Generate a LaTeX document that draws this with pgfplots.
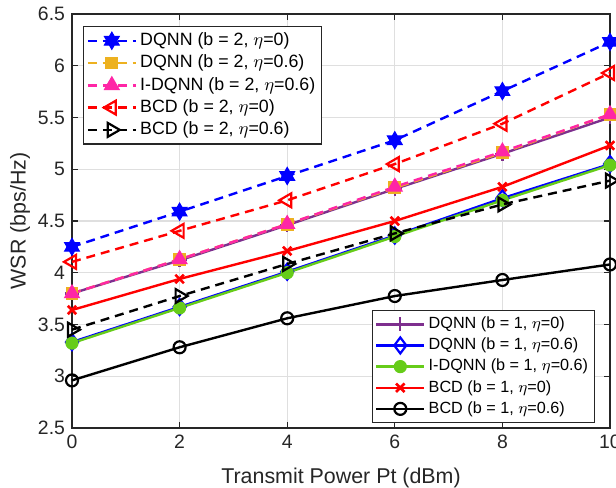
\documentclass[border=0pt]{standalone}
\usepackage{fontspec}
\setmainfont{Liberation Sans}
\usepackage{pgfplots}
\pgfplotsset{compat=1.18}
\definecolor{mblue}{rgb}{0,0,1}
\definecolor{mred}{rgb}{1,0,0}
\definecolor{morange}{rgb}{0.929,0.694,0.125}
\definecolor{mpink}{rgb}{1,0.15,0.65}
\definecolor{mpurple}{rgb}{0.494,0.184,0.556}
\definecolor{mgreen}{rgb}{0.4,0.8,0.1}
\definecolor{axgray}{rgb}{0.15,0.15,0.15}
\pgfdeclareplotmark{hexagram}{%
  \pgfpathmoveto{\pgfpointpolar{90}{\pgfplotmarksize}}%
  \pgfpathlineto{\pgfpointpolar{120}{0.577\pgfplotmarksize}}%
  \pgfpathlineto{\pgfpointpolar{150}{\pgfplotmarksize}}%
  \pgfpathlineto{\pgfpointpolar{180}{0.577\pgfplotmarksize}}%
  \pgfpathlineto{\pgfpointpolar{210}{\pgfplotmarksize}}%
  \pgfpathlineto{\pgfpointpolar{240}{0.577\pgfplotmarksize}}%
  \pgfpathlineto{\pgfpointpolar{270}{\pgfplotmarksize}}%
  \pgfpathlineto{\pgfpointpolar{300}{0.577\pgfplotmarksize}}%
  \pgfpathlineto{\pgfpointpolar{330}{\pgfplotmarksize}}%
  \pgfpathlineto{\pgfpointpolar{0}{0.577\pgfplotmarksize}}%
  \pgfpathlineto{\pgfpointpolar{30}{\pgfplotmarksize}}%
  \pgfpathlineto{\pgfpointpolar{60}{0.577\pgfplotmarksize}}%
  \pgfpathclose
  \pgfusepathqfillstroke
}
\pgfplotsset{
  common/.style={
    scale only axis,
    width=269bp, height=207bp,
    at={(0,0)}, anchor=south west,
    xmin=0, xmax=10, ymin=2.5, ymax=6.5,
    clip=false,
    legend cell align=left,
    legend image code/.code={\draw[mark repeat=2,mark phase=2,##1] plot coordinates {(0bp,0bp) (12bp,0bp) (24bp,0bp)};},
    legend style={draw=axgray, line width=0.6bp, fill=white,
      inner xsep=1.5bp, inner ysep=1.5bp, row sep=0pt,
      nodes={inner sep=1.6bp}},
  },
}
\begin{document}
\begin{tikzpicture}
\useasboundingbox (-36bp,-30bp) rectangle (272bp,214bp);
\begin{axis}[common,
  axis line style={axgray, line width=0.8bp},
  tick style={axgray, line width=0.6bp},
  major tick length=3bp,
  tick align=inside,
  xtick={0,2,4,6,8,10},
  ytick={2.5,3,3.5,4,4.5,5,5.5,6,6.5},
  grid=major,
  grid style={gray!25, line width=0.6bp},
  /pgf/number format/assume math mode=true,
  ticklabel style={font=\fontsize{9.7bp}{11bp}\selectfont, text=axgray},
  xlabel={Transmit Power Pt (dBm)},
  ylabel={WSR (bps/Hz)},
  label style={font=\fontsize{10.7bp}{12bp}\selectfont, text=axgray},
  xlabel style={at={(axis description cs:0.5,-0.121)}, anchor=center},
  ylabel style={at={(axis description cs:-0.0967,0.5)}, anchor=center},
  legend style={at={(axis description cs:0.972,0.012)}, anchor=south east,
    font=\fontsize{8.1bp}{9.5bp}\selectfont},
]
\addplot[mpurple, line width=1.2bp, mark=+, mark size=3.5bp, mark options={line width=1.1bp}]
  coordinates {(0,3.80) (2,4.12) (4,4.46) (6,4.81) (8,5.15) (10,5.50)};
\addlegendentry{DQNN (b = 1, $\eta$=0)}
\addplot[mblue, line width=1.2bp, mark=diamond, mark size=4bp, mark options={line width=1.1bp}]
  coordinates {(0,3.33) (2,3.67) (4,4.01) (6,4.36) (8,4.72) (10,5.05)};
\addlegendentry{DQNN (b = 1, $\eta$=0.6)}
\addplot[mgreen, line width=1.2bp, mark=*, mark size=3bp, mark options={fill=mgreen, line width=0.6bp}]
  coordinates {(0,3.32) (2,3.66) (4,4.00) (6,4.35) (8,4.70) (10,5.04)};
\addlegendentry{I-DQNN (b = 1, $\eta$=0.6)}
\addplot[mred, line width=1.2bp, mark=x, mark size=3bp, mark options={line width=1.3bp}]
  coordinates {(0,3.64) (2,3.94) (4,4.21) (6,4.50) (8,4.83) (10,5.23)};
\addlegendentry{BCD (b = 1, $\eta$=0)}
\addplot[black, line width=1.2bp, mark=o, mark size=3bp, mark options={line width=1.1bp}]
  coordinates {(0,2.96) (2,3.28) (4,3.56) (6,3.775) (8,3.93) (10,4.08)};
\addlegendentry{BCD (b = 1, $\eta$=0.6)}
\end{axis}
\begin{axis}[common, hide axis,
  legend style={at={(axis description cs:0.0205,0.971)}, anchor=north west,
    font=\fontsize{8.9bp}{10.5bp}\selectfont},
]
\addplot[mblue, line width=1.2bp, dash pattern=on 4.5bp off 3bp, mark=hexagram, mark size=4.3bp, mark options={solid, fill=mblue, line width=0.5bp}]
  coordinates {(0,4.25) (2,4.59) (4,4.935) (6,5.28) (8,5.755) (10,6.23)};
\addlegendentry{DQNN (b = 2, $\eta$=0)}
\addplot[morange, line width=1.2bp, dash pattern=on 4.5bp off 3bp, mark=square*, mark size=2.6bp, mark options={solid, fill=morange}]
  coordinates {(0,3.80) (2,4.13) (4,4.47) (6,4.82) (8,5.16) (10,5.53)};
\addlegendentry{DQNN (b = 2, $\eta$=0.6)}
\addplot[mpink, line width=1.2bp, dash pattern=on 4.5bp off 3bp, mark=triangle*, mark size=4.2bp, mark options={solid, fill=mpink, line width=0.6bp}]
  coordinates {(0,3.80) (2,4.13) (4,4.47) (6,4.83) (8,5.17) (10,5.53)};
\addlegendentry{I-DQNN (b = 2, $\eta$=0.6)}
\addplot[mred, line width=1.2bp, dash pattern=on 4.5bp off 3bp, mark=triangle, mark size=4bp, mark options={solid, rotate=90, line width=1.1bp}]
  coordinates {(0,4.105) (2,4.405) (4,4.70) (6,5.05) (8,5.44) (10,5.93)};
\addlegendentry{BCD (b = 2, $\eta$=0)}
\addplot[black, line width=1.2bp, dash pattern=on 4.5bp off 3bp, mark=triangle, mark size=4bp, mark options={solid, rotate=-90, line width=1.1bp}]
  coordinates {(0,3.45) (2,3.775) (4,4.085) (6,4.38) (8,4.66) (10,4.89)};
\addlegendentry{BCD (b = 2, $\eta$=0.6)}
\end{axis}
\end{tikzpicture}
\end{document}
